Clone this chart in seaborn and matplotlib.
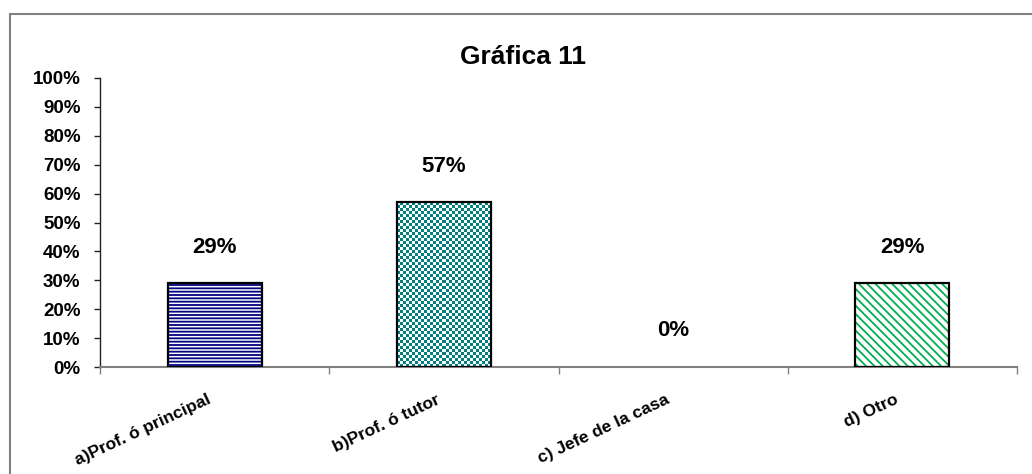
import numpy as np
import pandas as pd
import matplotlib
matplotlib.use("Agg")
import matplotlib.pyplot as plt
from matplotlib.patches import Rectangle
from matplotlib.transforms import ScaledTranslation
import seaborn as sns

# Survey answers and their shares
categories = ["a)Prof. ó principal", "b)Prof. ó tutor", "c) Jefe de la casa", "d) Otro"]
values = [0.29, 0.57, 0.0, 0.29]
value_labels = ["29%", "57%", "0%", "29%"]
y_ticks = [0.0, 0.1, 0.2, 0.3, 0.4, 0.5, 0.6, 0.7, 0.8, 0.9, 1.0]
y_tick_labels = ["0%", "10%", "20%", "30%", "40%", "50%", "60%", "70%", "80%", "90%", "100%"]
title = "Gráfica 11"

sns.set_theme(style="white")
plt.rcParams["font.family"] = ["Liberation Sans", "DejaVu Sans"]
plt.rcParams["font.weight"] = "bold"
plt.rcParams["text.color"] = "black"
plt.rcParams["xtick.color"] = "black"
plt.rcParams["ytick.color"] = "black"
plt.rcParams["hatch.linewidth"] = 1.3

NAVY = "#000080"
TEAL = "#008080"
GREEN = "#00B050"

df = pd.DataFrame({"categoria": categories, "valor": values})

W, H = 1032, 474
fig = plt.figure(figsize=(W / 100, H / 100), dpi=100)
fig.patch.set_facecolor("white")
ax = fig.add_axes([100 / W, 1 - 367 / H, 917 / W, 289 / H])

sns.barplot(data=df, x="categoria", y="valor", ax=ax, width=0.41,
            color="white", saturation=1, edgecolor="black", linewidth=1.6)

ax.set_xlim(-0.5, len(categories) - 0.5)
ax.set_ylim(0, 1.0)
ax.set_xlabel("")
ax.set_ylabel("")

# Fill patterns for each bar
fill_styles = [("-----", NAVY), ("checker", TEAL), (None, None), ("\\\\\\\\", GREEN)]
for patch, (hatch, col) in zip(ax.patches, fill_styles):
    x0, y0 = patch.get_x(), patch.get_y()
    w, h = patch.get_width(), patch.get_height()
    patch.set_facecolor("none")
    patch.set_zorder(3)
    if h == 0:
        patch.set_linewidth(0)
        continue
    if hatch == "checker":
        p0 = ax.transData.transform((x0, y0))
        p1 = ax.transData.transform((x0 + w, y0 + h))
        cell = 3.0
        ncols = int(round((p1[0] - p0[0]) / cell))
        nrows = int(round((p1[1] - p0[1]) / cell))
        grid = (np.add.outer(np.arange(nrows), np.arange(ncols)) % 2).astype(float)
        cmap = matplotlib.colors.ListedColormap(["white", col])
        ax.imshow(grid, cmap=cmap, extent=(x0, x0 + w, y0, y0 + h),
                  interpolation="nearest", aspect="auto", zorder=2, origin="lower")
    else:
        ax.add_patch(Rectangle((x0, y0), w, h, facecolor="white", edgecolor=col,
                               hatch=hatch, linewidth=0, zorder=2))

ax.set_xlim(-0.5, len(categories) - 0.5)
ax.set_ylim(0, 1.0)

# Value labels above bars
for i, (v, lab) in enumerate(zip(values, value_labels)):
    ax.annotate(lab, (i, v), xytext=(0, 26), textcoords="offset points",
                ha="center", va="center", fontsize=16, fontweight="bold")

# Axes styling
ax.set_yticks(y_ticks)
ax.set_yticklabels(y_tick_labels)
ax.tick_params(axis="y", direction="out", length=4, width=1, pad=10,
               labelsize=13.5, left=True, color="#222222")
ax.set_xticks(range(len(categories)))
ax.set_xticklabels(categories, rotation=25, ha="right", va="top",
                   rotation_mode="anchor", fontsize=12.5, fontweight="bold")
ax.set_xticks(np.arange(-0.5, len(categories)), minor=True)
ax.tick_params(axis="x", which="major", length=0, pad=18)
ax.tick_params(axis="x", which="minor", direction="out", length=5, width=1,
               bottom=True, color="#808080")
for lbl in ax.get_xticklabels():
    lbl.set_transform(lbl.get_transform() + ScaledTranslation(-0.08, 0, fig.dpi_scale_trans))

for side in ("top", "right"):
    ax.spines[side].set_visible(False)
ax.spines["left"].set_color("#222222")
ax.spines["left"].set_linewidth(1)
ax.spines["bottom"].set_color("#808080")
ax.spines["bottom"].set_linewidth(1.5)
ax.set_facecolor("white")

# Chart title and outer frame
fig.text(523 / W, 1 - 57 / H, title, ha="center", va="center",
         fontsize=19, fontweight="bold")
fig.add_artist(Rectangle((10 / W, -0.1), 1.2, 1.1 - 14 / H, transform=fig.transFigure,
                         fill=False, edgecolor="#808080", linewidth=1.5))

fig.savefig("out.png", dpi=100, facecolor="white")
